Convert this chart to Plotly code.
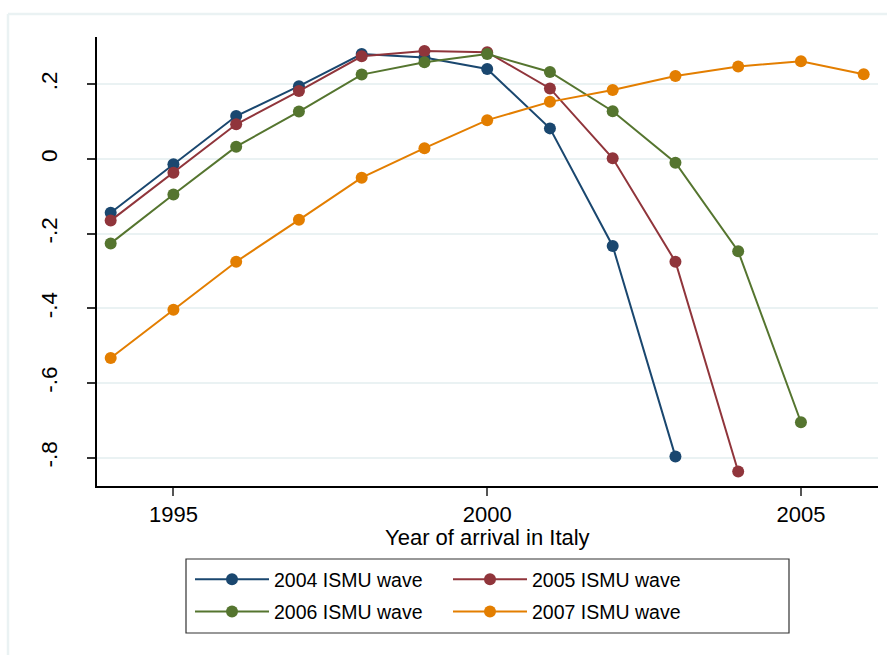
import plotly.graph_objects as go

# Data
years_2004 = [1994, 1995, 1996, 1997, 1998, 1999, 2000, 2001, 2002, 2003]
wave_2004 = [-0.144, -0.014, 0.115, 0.195, 0.281, 0.272, 0.241, 0.082, -0.233, -0.797]

years_2005 = [1994, 1995, 1996, 1997, 1998, 1999, 2000, 2001, 2002, 2003, 2004]
wave_2005 = [-0.165, -0.037, 0.093, 0.182, 0.275, 0.289, 0.286, 0.189, 0.002, -0.275, -0.837]

years_2006 = [1994, 1995, 1996, 1997, 1998, 1999, 2000, 2001, 2002, 2003, 2004, 2005]
wave_2006 = [-0.226, -0.095, 0.033, 0.127, 0.226, 0.259, 0.281, 0.233, 0.128, -0.010, -0.247, -0.705]

years_2007 = [1994, 1995, 1996, 1997, 1998, 1999, 2000, 2001, 2002, 2003, 2004, 2005, 2006]
wave_2007 = [-0.533, -0.404, -0.275, -0.163, -0.050, 0.029, 0.104, 0.153, 0.185, 0.222, 0.248, 0.262, 0.227]

series_names = ["2004 ISMU wave", "2005 ISMU wave", "2006 ISMU wave", "2007 ISMU wave"]
series_colors = ["#1a476f", "#90353b", "#55752f", "#e37e00"]
series_legend = ["legend", "legend2", "legend", "legend2"]

x_ticks = [1995, 2000, 2005]
y_ticks = [0.2, 0.0, -0.2, -0.4, -0.6, -0.8]
y_tick_labels = [".2", "0", "-.2", "-.4", "-.6", "-.8"]
x_title = "Year of arrival in Italy"

FONT = "Liberation Sans, Arial, Helvetica, sans-serif"

W, H = 887, 655
ML, MR, MT, MB = 97, 9, 37, 169
PW = W - ML - MR
PH = H - MT - MB


def px(xp):
    return (xp - ML) / PW


def py(yp):
    return (H - MB - yp) / PH


fig = go.Figure()
for xs, ys, name, col, lg in zip(
    [years_2004, years_2005, years_2006, years_2007],
    [wave_2004, wave_2005, wave_2006, wave_2007],
    series_names,
    series_colors,
    series_legend,
):
    fig.add_trace(
        go.Scatter(
            x=xs,
            y=ys,
            name=name,
            legend=lg,
            legendgroup=name,
            mode="lines+markers",
            line=dict(color=col, width=2),
            marker=dict(color=col, size=12),
        )
    )

legend_common = dict(
    orientation="v",
    xref="container",
    yref="container",
    xanchor="left",
    yanchor="top",
    y=1 - 560 / H,
    bgcolor="rgba(0,0,0,0)",
    borderwidth=0,
    font=dict(family=FONT, size=19.5, color="black"),
    itemwidth=74,
    tracegroupgap=4,
    traceorder="grouped",
)

fig.update_layout(
    template="none",
    width=W,
    height=H,
    margin=dict(l=ML, r=MR, t=MT, b=MB, pad=0, autoexpand=False),
    paper_bgcolor="white",
    plot_bgcolor="white",
    font=dict(family=FONT, color="black"),
    showlegend=True,
    legend=dict(legend_common, x=190 / W),
    legend2=dict(legend_common, x=448 / W),
    xaxis=dict(
        range=[1993.782, 2006.228],
        automargin=False,
        tickmode="array",
        tickvals=x_ticks,
        ticks="outside",
        ticklen=8,
        tickwidth=1.5,
        tickcolor="#555555",
        showline=True,
        linecolor="black",
        linewidth=1.5,
        showgrid=False,
        zeroline=False,
        tickfont=dict(family=FONT, size=22, color="black"),
    ),
    yaxis=dict(
        range=[-0.8757, 0.3267],
        automargin=False,
        tickmode="array",
        tickvals=y_ticks,
        ticktext=y_tick_labels,
        tickangle=-90,
        ticks="outside",
        ticklen=8,
        tickwidth=1.5,
        tickcolor="#333333",
        ticklabelstandoff=21,
        showline=True,
        linecolor="black",
        linewidth=1.5,
        showgrid=True,
        gridcolor="#EAF2F3",
        gridwidth=2,
        zeroline=False,
        tickfont=dict(family=FONT, size=22.5, color="black"),
    ),
    annotations=[
        dict(
            text=x_title,
            xref="paper",
            yref="paper",
            x=px(487),
            y=py(537),
            xanchor="center",
            yanchor="middle",
            showarrow=False,
            font=dict(family=FONT, size=22, color="black"),
        )
    ],
    shapes=[
        # legend frame
        dict(
            type="rect",
            xref="paper",
            yref="paper",
            x0=px(186),
            x1=px(789),
            y0=py(633),
            y1=py(559),
            line=dict(color="#333333", width=1.2),
            fillcolor="rgba(0,0,0,0)",
        ),
        # outer light frame of the graph region
        dict(
            type="line",
            xref="paper",
            yref="paper",
            x0=px(8),
            x1=px(900),
            y0=py(14),
            y1=py(14),
            line=dict(color="#EAF2F3", width=2.5),
        ),
        dict(
            type="line",
            xref="paper",
            yref="paper",
            x0=px(8),
            x1=px(8),
            y0=py(14),
            y1=py(700),
            line=dict(color="#EAF2F3", width=2.5),
        ),
    ],
)

fig.write_html(
    "out.html",
    config={"displayModeBar": False},
    post_script="document.body.style.margin='0';document.body.style.overflow='hidden';",
)
